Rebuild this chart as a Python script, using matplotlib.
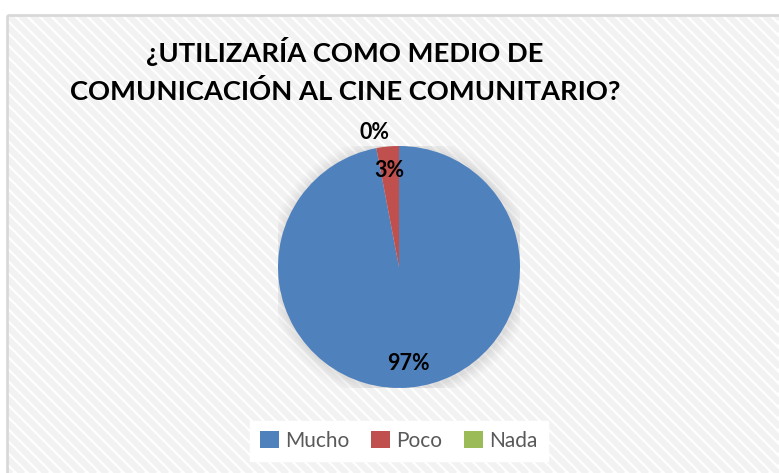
import numpy as np
import matplotlib.pyplot as plt
from matplotlib.patches import Rectangle, Circle

categories = ['Mucho', 'Poco', 'Nada']
values = [97, 3, 0]
colors = ['#4f81bd', '#c0504d', '#9bbb59']
title_lines = ['¿UTILIZARÍA COMO MEDIO DE', 'COMUNICACIÓN AL CINE COMUNITARIO?']

W, H = 779, 473
fig = plt.figure(figsize=(W / 100, H / 100), dpi=100)

# background: chart area with light diagonal stripes and a grey border
bg = fig.add_axes([0, 0, 1, 1])
bg.set_xlim(0, W)
bg.set_ylim(H, 0)
bg.axis('off')
for c in np.arange(-H, W + 20, 12):
    bg.plot([c, c + H + 20], [-10, H + 10], color='#f2f2f2', lw=4.5, solid_capstyle='butt', zorder=1)
bg.add_patch(Rectangle((7, 15), W, H, fill=False, edgecolor='#d9d9d9', lw=2, zorder=3))
bg.add_patch(Rectangle((0, 0), W, 14, color='white', zorder=2))
bg.add_patch(Rectangle((0, 0), 6, H, color='white', zorder=2))

# title
fig.text(345 / W, 1 - 52 / H, title_lines[0], ha='center', va='center',
         fontsize=19.7, fontweight='bold', family='Lato', color='black')
fig.text(345 / W, 1 - 91 / H, title_lines[1], ha='center', va='center',
         fontsize=19.7, fontweight='bold', family='Lato', color='black')

# pie
cx, cy, r = 399, 267, 121
ax = fig.add_axes([(cx - r) / W, (H - cy - r) / H, 2 * r / W, 2 * r / H])
# soft shadow
for i, a in enumerate([0.06, 0.05, 0.04, 0.03, 0.02]):
    ax.add_patch(Circle((0.01, -0.01), 1 + 0.022 * (i + 1), color='#808080', alpha=a, lw=0, zorder=0))
wedges, texts, autotexts = ax.pie(values, colors=colors, startangle=90, counterclock=False,
                                  autopct='%1.0f%%', pctdistance=0.8,
                                  textprops=dict(fontsize=15.5, fontweight='bold', family='Lato', color='black'))
for w in wedges:
    w.set_zorder(2)
autotexts[2].set_position((-0.2, 1.11))
ax.set_xlim(-1, 1)
ax.set_ylim(-1, 1)
ax.axis('off')

# legend
leg = fig.legend(wedges, categories, loc='center', bbox_to_anchor=(399 / W, 1 - 441 / H),
                 ncol=3, frameon=True, fancybox=False, framealpha=1, edgecolor='white',
                 handlelength=0.9, handleheight=0.9, handletextpad=0.3, columnspacing=1.05,
                 prop=dict(family='Lato', size=15), borderpad=0.5)
for t in leg.get_texts():
    t.set_color('#595959')

fig.savefig('out.png', dpi=100)
